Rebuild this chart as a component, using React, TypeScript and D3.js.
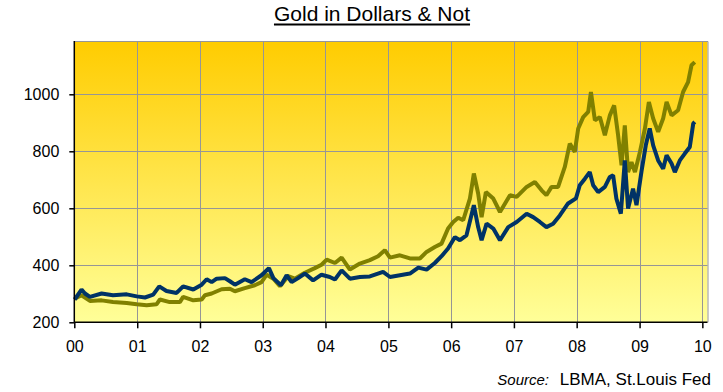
import React, { useEffect, useRef } from 'react';
import * as d3 from 'd3';

// gold price in US dollars (olive)
const dollarDates = [
  '2000-01-03', '2000-02-12', '2000-04-01', '2000-06-08', '2000-08-13', '2000-11-01', '2000-12-29',
  '2001-02-25', '2001-04-23', '2001-05-13', '2001-07-09', '2001-09-06', '2001-09-25', '2001-11-23',
  '2002-01-11', '2002-01-30', '2002-03-10', '2002-05-07', '2002-06-24', '2002-07-23', '2002-09-19',
  '2002-11-16', '2002-12-25', '2003-01-24', '2003-03-04', '2003-04-11', '2003-05-29', '2003-07-07',
  '2003-09-03', '2003-10-31', '2003-12-09', '2004-01-08', '2004-02-25', '2004-04-04', '2004-05-22',
  '2004-07-19', '2004-09-15', '2004-11-02', '2004-12-11', '2005-01-10', '2005-03-09', '2005-05-06',
  '2005-07-03', '2005-08-11', '2005-09-28', '2005-11-06', '2005-12-14', '2006-01-13', '2006-02-11',
  '2006-03-12', '2006-04-20', '2006-05-13', '2006-06-07', '2006-06-27', '2006-07-22', '2006-09-03',
  '2006-10-12', '2006-12-09', '2007-01-17', '2007-03-16', '2007-05-03', '2007-06-11', '2007-07-09',
  '2007-08-08', '2007-09-15', '2007-10-24', '2007-11-22', '2007-12-21', '2008-01-10', '2008-02-08',
  '2008-03-08', '2008-03-24', '2008-04-16', '2008-05-15', '2008-06-13', '2008-07-12', '2008-08-06',
  '2008-08-29', '2008-09-18', '2008-10-07', '2008-10-26', '2008-11-15', '2008-12-05', '2009-01-03',
  '2009-02-01', '2009-02-24', '2009-03-21', '2009-04-19', '2009-05-18', '2009-06-07', '2009-07-06',
  '2009-08-13', '2009-09-11', '2009-10-10', '2009-10-30', '2009-11-18',
];
const dollarValues = [
  283, 295, 275, 277, 271, 268, 263,
  260, 263, 280, 271, 271, 289, 277,
  280, 295, 301, 316, 318, 309, 320,
  330, 341, 367, 353, 327, 362, 353,
  374, 390, 402, 420, 408, 427, 385,
  406, 418, 432, 453, 427, 435, 424,
  424, 447, 464, 476, 529, 552, 567,
  558, 634, 722, 652, 569, 657, 634,
  587, 646, 640, 675, 692, 663, 646,
  675, 675, 745, 827, 798, 880, 920,
  938, 1008, 909, 920, 856, 926, 961,
  856, 751, 891, 727, 762, 727, 798,
  880, 973, 915, 868, 915, 973, 926,
  944, 1008, 1043, 1102, 1113,
];

// gold priced in other currencies (navy)
const notDates = [
  '2000-01-03', '2000-02-12', '2000-03-03', '2000-04-01', '2000-06-08', '2000-08-13', '2000-11-01',
  '2000-12-29', '2001-02-15', '2001-04-04', '2001-05-09', '2001-06-20', '2001-08-18', '2001-09-25',
  '2001-11-23', '2002-01-11', '2002-02-09', '2002-03-10', '2002-04-08', '2002-05-26', '2002-06-24',
  '2002-07-23', '2002-09-19', '2002-10-28', '2002-12-25', '2003-02-06', '2003-03-04', '2003-04-17',
  '2003-05-20', '2003-06-18', '2003-07-26', '2003-09-03', '2003-10-21', '2003-12-09', '2004-01-26',
  '2004-02-25', '2004-04-04', '2004-05-22', '2004-07-19', '2004-09-15', '2004-12-01', '2005-01-10',
  '2005-03-09', '2005-05-06', '2005-06-24', '2005-08-11', '2005-09-28', '2005-11-06', '2005-12-14',
  '2006-01-23', '2006-02-21', '2006-03-31', '2006-05-13', '2006-06-07', '2006-06-27', '2006-07-26',
  '2006-09-03', '2006-10-12', '2006-11-29', '2007-01-17', '2007-03-16', '2007-04-23', '2007-06-01',
  '2007-07-09', '2007-08-17', '2007-09-25', '2007-11-12', '2007-12-28', '2008-01-19', '2008-02-18',
  '2008-03-17', '2008-04-06', '2008-05-05', '2008-06-13', '2008-07-12', '2008-07-31', '2008-08-19',
  '2008-09-14', '2008-10-07', '2008-10-26', '2008-11-24', '2008-12-14', '2009-01-13', '2009-02-06',
  '2009-03-01', '2009-03-21', '2009-04-19', '2009-05-18', '2009-06-07', '2009-07-06', '2009-07-25',
  '2009-08-23', '2009-09-21', '2009-10-20', '2009-11-09', '2009-11-18',
];
const notValues = [
  280, 315, 301, 289, 301, 295, 298,
  291, 287, 297, 326, 310, 303, 326,
  315, 332, 351, 341, 353, 355, 344,
  332, 351, 341, 365, 390, 355, 330,
  365, 341, 355, 371, 347, 367, 359,
  350, 382, 353, 359, 361, 377, 359,
  365, 371, 392, 385, 408, 432, 459,
  499, 488, 505, 611, 534, 488, 546,
  529, 488, 534, 552, 581, 569, 552,
  534, 546, 575, 617, 635, 681, 704,
  727, 681, 657, 675, 710, 716, 634,
  581, 768, 599, 669, 611, 733, 821,
  880, 821, 768, 739, 786, 757, 727,
  768, 792, 815, 897, 903,
];

const yTicks = [200, 400, 600, 800, 1000];
const xTickLabels = ['00', '01', '02', '03', '04', '05', '06', '07', '08', '09', '10'];

export default function App() {
  const svgRef = useRef<SVGSVGElement>(null);

  useEffect(() => {
    if (!svgRef.current) return;
    const svg = d3.select(svgRef.current);
    svg.selectAll('*').remove();

    const width = 723;
    const height = 392;
    const left = 74.3, right = 707.5, top = 41, bottom = 322.3;
    const font = '"Liberation Sans", Arial, sans-serif';

    const parse = d3.timeParse('%Y-%m-%d');
    const x = d3.scaleTime()
      .domain([new Date(2000, 0, 1), new Date(2010, 0, 31)])
      .range([left, right]);
    const y = d3.scaleLinear().domain([200, 1187]).range([bottom, top]);

    svg.append('rect').attr('width', width).attr('height', height).attr('fill', '#ffffff');

    const defs = svg.append('defs');
    const grad = defs.append('linearGradient').attr('id', 'bg').attr('x1', 0).attr('y1', 0).attr('x2', 0).attr('y2', 1);
    grad.append('stop').attr('offset', '0%').attr('stop-color', '#ffcc00');
    grad.append('stop').attr('offset', '100%').attr('stop-color', '#ffff99');

    svg.append('rect')
      .attr('x', left).attr('y', top)
      .attr('width', right - left).attr('height', bottom - top)
      .attr('fill', 'url(#bg)');

    // gridlines
    const yearTicks = xTickLabels.map((_, i) => new Date(2000 + i, 0, 1));
    svg.append('g').selectAll('line')
      .data(yearTicks.slice(1))
      .enter().append('line')
      .attr('x1', d => Math.round(x(d)) + 0.5).attr('x2', d => Math.round(x(d)) + 0.5)
      .attr('y1', top).attr('y2', bottom)
      .attr('stroke', '#969696').attr('stroke-width', 1);
    svg.append('g').selectAll('line')
      .data(yTicks.slice(1))
      .enter().append('line')
      .attr('x1', left).attr('x2', right)
      .attr('y1', d => Math.round(y(d)) + 0.5).attr('y2', d => Math.round(y(d)) + 0.5)
      .attr('stroke', '#969696').attr('stroke-width', 1);

    // top & right border
    svg.append('path')
      .attr('d', `M${left},${top + 0.5}H${right + 0.5}V${bottom}`)
      .attr('fill', 'none').attr('stroke', '#969696').attr('stroke-width', 1);

    const line = d3.line<[Date, number]>()
      .x(d => x(d[0]))
      .y(d => y(d[1]));

    const dollars: [Date, number][] = dollarDates.map((d, i) => [parse(d) as Date, dollarValues[i]]);
    const nots: [Date, number][] = notDates.map((d, i) => [parse(d) as Date, notValues[i]]);

    svg.append('path').datum(dollars)
      .attr('d', line).attr('fill', 'none')
      .attr('stroke', '#808000').attr('stroke-width', 4).attr('stroke-linejoin', 'bevel');
    svg.append('path').datum(nots)
      .attr('d', line).attr('fill', 'none')
      .attr('stroke', '#003366').attr('stroke-width', 4).attr('stroke-linejoin', 'bevel');

    // axes
    const yAxis = svg.append('g').attr('transform', `translate(${left},0)`)
      .call(d3.axisLeft(y).tickValues(yTicks).tickSize(5).tickPadding(10).tickFormat(d3.format('d')));
    const xAxis = svg.append('g').attr('transform', `translate(0,${bottom})`)
      .call(d3.axisBottom(x).tickValues(yearTicks).tickSize(6).tickPadding(12)
        .tickFormat((_, i) => xTickLabels[i]));
    [yAxis, xAxis].forEach(a => {
      a.select('.domain').attr('stroke', '#000').attr('stroke-width', 1.5);
      a.selectAll('.tick line').attr('stroke', '#000').attr('stroke-width', 1.5);
      a.selectAll('.tick text').attr('fill', '#000').attr('font-family', font).attr('font-size', 16);
    });
    yAxis.select('.domain').attr('d', `M0,${top}V${bottom}`);
    xAxis.select('.domain').attr('d', `M${left},0H${right}`);

    // title
    const title = svg.append('text')
      .attr('x', 372).attr('y', 21)
      .attr('text-anchor', 'middle')
      .attr('font-family', font).attr('font-size', 21).attr('fill', '#000')
      .text('Gold in Dollars & Not');
    const tw = (title.node() as SVGTextElement).getComputedTextLength();
    svg.append('line')
      .attr('x1', 372 - tw / 2).attr('x2', 372 + tw / 2)
      .attr('y1', 24.5).attr('y2', 24.5)
      .attr('stroke', '#000').attr('stroke-width', 2);

    // source note
    svg.append('text')
      .attr('x', 711).attr('y', 385)
      .attr('text-anchor', 'end')
      .attr('font-family', font).attr('font-size', 17).attr('fill', '#000')
      .text('LBMA, St.Louis Fed');
    svg.append('text')
      .attr('x', 549).attr('y', 385)
      .attr('text-anchor', 'end')
      .attr('font-family', font).attr('font-size', 15).attr('font-style', 'italic').attr('fill', '#000')
      .text('Source:');
  }, []);

  return (
    <svg ref={svgRef} width={723} height={392} viewBox="0 0 723 392"
      style={{ position: 'absolute', left: 0, top: 0, display: 'block' }} />
  );
}
